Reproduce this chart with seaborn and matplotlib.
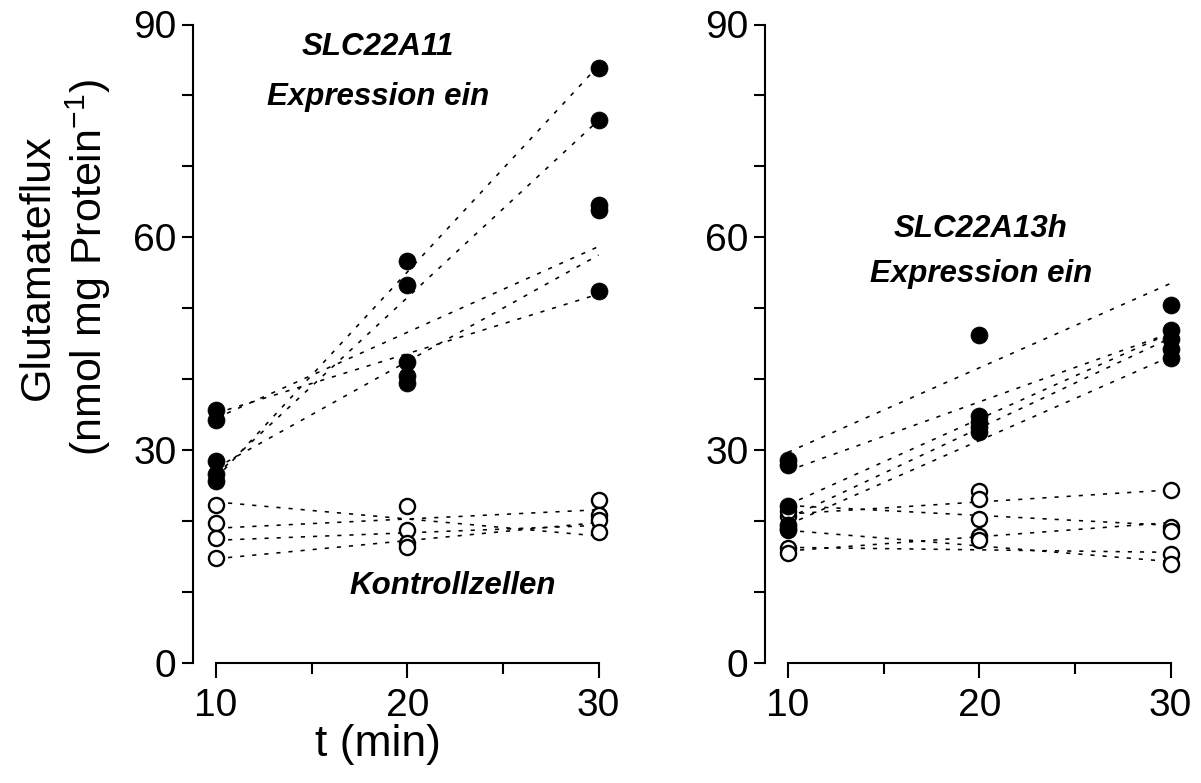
import numpy as np
import pandas as pd
import matplotlib
matplotlib.use("Agg")
import matplotlib.pyplot as plt
from matplotlib.ticker import MultipleLocator
import seaborn as sns

# ---- data -------------------------------------------------------------
times = [10, 20, 30]

# SLC22A11 expressing cells (filled) and control cells (open), per time point
a11_expr = {10: [35.7, 34.3, 28.5, 26.7, 25.6],
            20: [56.6, 53.3, 42.4, 40.4, 39.4],
            30: [83.8, 76.5, 64.6, 63.9, 52.4]}
a11_ctrl = {10: [22.3, 19.7, 17.6, 14.8],
            20: [22.2, 18.7, 16.9, 16.4],
            30: [23.0, 20.9, 20.2, 18.5]}
# linear fits per experiment: value at t=10 and at t=30
a11_expr_fit_start = [26.0, 26.5, 34.5, 27.5, 35.2]
a11_expr_fit_end = [84.2, 76.5, 58.7, 57.5, 52.0]
a11_ctrl_fit_start = [22.7, 19.0, 17.3, 14.7]
a11_ctrl_fit_end = [17.9, 21.6, 19.4, 19.8]

# SLC22A13h expressing cells (filled) and control cells (open)
a13_expr = {10: [28.6, 27.9, 22.2, 19.4, 18.9],
            20: [46.2, 34.8, 34.0, 33.2, 32.5],
            30: [50.4, 47.0, 45.6, 44.2, 43.0]}
a13_ctrl = {10: [20.7, 21.4, 18.8, 16.2, 15.5],
            20: [24.2, 23.1, 20.3, 17.9, 17.4],
            30: [24.4, 19.2, 18.6, 15.3, 13.9]}
a13_expr_fit_start = [29.7, 27.1, 22.3, 20.4, 19.5]
a13_expr_fit_end = [53.5, 46.5, 46.5, 45.8, 43.2]
a13_ctrl_fit_start = [21.0, 22.2, 18.7, 15.8, 16.3]
a13_ctrl_fit_end = [24.4, 19.4, 14.3, 19.8, 15.6]

y_ticks = [0, 30, 60, 90]
x_ticks = [10, 20, 30]


def points_frame(d):
    rows = [(t, v) for t in times for v in d[t]]
    return pd.DataFrame(rows, columns=["t", "flux"])


def fit_frame(starts, ends):
    rows = []
    for i, (s, e) in enumerate(zip(starts, ends)):
        rows.append((i, 10, s))
        rows.append((i, 30, e))
    return pd.DataFrame(rows, columns=["run", "t", "flux"])


# ---- style ------------------------------------------------------------
sns.set_style("ticks")
plt.rcParams["font.family"] = ["Liberation Sans", "DejaVu Sans"]
plt.rcParams["axes.linewidth"] = 1.5
for key in ("text.color", "axes.labelcolor", "xtick.color", "ytick.color",
            "axes.edgecolor"):
    plt.rcParams[key] = "black"

W, H = 1201, 783
fig = plt.figure(figsize=(W / 100, H / 100), dpi=100)
ax_l = fig.add_axes([193 / W, (H - 663) / H, 417 / W, 638.5 / H])
ax_r = fig.add_axes([765 / W, (H - 663) / H, 417 / W, 638.5 / H])

dash = (0, (2.6, 5.0))
title_font = dict(family=["Liberation Sans", "DejaVu Sans"],
                  weight="bold", style="italic",
                  fontsize=22.5, ha="center", va="baseline", color="black")


def draw_panel(ax, expr, ctrl, e_start, e_end, c_start, c_end):
    sns.lineplot(data=fit_frame(e_start, e_end), x="t", y="flux", units="run",
                 estimator=None, color="black", lw=1.15, linestyle=dash,
                 ax=ax, zorder=1, legend=False)
    sns.lineplot(data=fit_frame(c_start, c_end), x="t", y="flux", units="run",
                 estimator=None, color="black", lw=1.15, linestyle=dash,
                 ax=ax, zorder=1, legend=False)
    sns.scatterplot(data=points_frame(ctrl), x="t", y="flux", ax=ax,
                    s=118, facecolor="white", edgecolor="black", linewidth=1.7,
                    zorder=3, clip_on=False, legend=False)
    sns.scatterplot(data=points_frame(expr), x="t", y="flux", ax=ax,
                    s=150, color="black", edgecolor="black", linewidth=0.5,
                    zorder=4, clip_on=False, legend=False)

    ax.set_xlim(8.8, 30.6)
    ax.set_ylim(0, 90)
    ax.set_xticks(x_ticks)
    ax.set_yticks(y_ticks)
    ax.xaxis.set_minor_locator(MultipleLocator(5))
    ax.yaxis.set_minor_locator(MultipleLocator(10))
    ax.tick_params(axis="both", which="major", labelsize=28, width=1.5,
                   direction="out", color="black", labelcolor="black")
    ax.tick_params(axis="y", which="both", length=8, width=1.5, pad=4)
    ax.tick_params(axis="x", which="major", length=11, pad=7)
    ax.tick_params(axis="x", which="minor", length=8, width=1.5)
    for side in ("top", "right"):
        ax.spines[side].set_visible(False)
    ax.spines["bottom"].set_bounds(10, 30)
    ax.spines["left"].set_bounds(0, 90)
    for sp in ("left", "bottom"):
        ax.spines[sp].set_color("black")
        ax.spines[sp].set_linewidth(1.5)
    ax.set_xlabel("")
    ax.set_ylabel("")


draw_panel(ax_l, a11_expr, a11_ctrl, a11_expr_fit_start, a11_expr_fit_end,
           a11_ctrl_fit_start, a11_ctrl_fit_end)
draw_panel(ax_r, a13_expr, a13_ctrl, a13_expr_fit_start, a13_expr_fit_end,
           a13_ctrl_fit_start, a13_ctrl_fit_end)

# panel annotations
ax_l.text(18.47, 85.7, "SLC22A11", **title_font)
ax_l.text(18.47, 78.7, "Expression ein", **title_font)
ax_l.text(22.37, 9.7, "Kontrollzellen", **title_font)
ax_r.text(20.08, 60.05, "SLC22A13h", **title_font)
ax_r.text(20.08, 53.7, "Expression ein", **title_font)

# axis labels
ax_l.set_ylabel("Glutamateflux\n(nmol mg Protein$^{\\mathregular{-1}}$)",
                fontsize=31, linespacing=1.15, ha="center", va="center",
                color="black")
ax_l.yaxis.set_label_coords(-0.307, 0.62)
ax_l.set_xlabel("t (min)", fontsize=32, va="center", color="black")
ax_l.xaxis.set_label_coords(0.444, -0.128)

fig.savefig("out.png", dpi=100, facecolor="white")
